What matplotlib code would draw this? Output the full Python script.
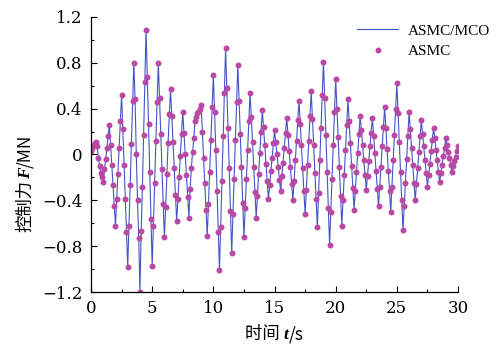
import numpy as np
import matplotlib
matplotlib.use("Agg")
import matplotlib.pyplot as plt
from matplotlib.ticker import MultipleLocator

plt.rcParams['font.family'] = ['DejaVu Serif', 'Noto Sans CJK SC']

CJK = ['Noto Sans CJK SC', 'DejaVu Sans']
ITALIC = dict(family='Liberation Serif', style='italic', weight='bold')

# sample step of the response (s)
dt = 0.1

# control force F (MN), one value per sample
force = [
    0.03, 0.06, 0.08, 0.10, 0.11, 0.07, -0.03, -0.10, -0.16, -0.20,   # 0-1
    -0.24, -0.13, -0.04, 0.06, 0.16, 0.26, 0.08, -0.09, -0.27, -0.45,
    -0.62, -0.39, -0.17, 0.06, 0.29, 0.52, 0.22, -0.09, -0.39, -0.68,
    -0.98, -0.62, -0.27, 0.09, 0.47, 0.80, 0.48, 0.00, -0.40, -0.73,
    -1.20, -0.67, -0.28, 0.17, 0.63, 1.09, 0.68, 0.27, -0.15, -0.56,
    -0.97, -0.62, -0.25, 0.12, 0.46, 0.80, 0.49, 0.18, -0.13, -0.43,   # 5-6
    -0.72, -0.46, -0.17, 0.10, 0.35, 0.57, 0.34, 0.11, -0.12, -0.35,
    -0.58, -0.39, -0.20, -0.01, 0.18, 0.37, 0.19, 0.00, -0.18, -0.37,
    -0.55, -0.30, -0.12, 0.02, 0.14, 0.29, 0.33, 0.36, 0.38, 0.40,
    0.43, 0.20, -0.03, -0.25, -0.48, -0.71, -0.43, -0.15, 0.13, 0.41,
    0.69, 0.37, 0.04, -0.32, -0.68, -1.01, -0.63, -0.23, 0.16, 0.54,   # 10-11
    0.93, 0.58, 0.23, -0.12, -0.49, -0.86, -0.52, -0.21, 0.13, 0.46,
    0.78, 0.47, 0.18, -0.11, -0.42, -0.72, -0.47, -0.21, 0.04, 0.29,
    0.54, 0.33, 0.11, -0.11, -0.33, -0.55, -0.36, -0.17, 0.01, 0.20,
    0.39, 0.24, 0.08, -0.08, -0.23, -0.39, -0.27, -0.14, -0.03, 0.10,
    0.21, 0.11, 0.00, -0.11, -0.22, -0.32, -0.19, -0.07, 0.06, 0.19,   # 15-16
    0.32, 0.17, 0.03, -0.11, -0.26, -0.40, -0.23, -0.05, 0.12, 0.30,
    0.47, 0.27, 0.08, -0.12, -0.32, -0.52, -0.31, -0.09, 0.12, 0.34,
    0.55, 0.31, 0.08, -0.16, -0.39, -0.63, -0.34, -0.05, 0.23, 0.52,
    0.81, 0.49, 0.17, -0.15, -0.47, -0.79, -0.50, -0.21, 0.08, 0.37,
    0.66, 0.40, 0.15, -0.11, -0.36, -0.62, -0.40, -0.18, 0.04, 0.26,   # 20-21
    0.48, 0.29, 0.10, -0.10, -0.29, -0.48, -0.32, -0.15, 0.01, 0.18,
    0.34, 0.21, 0.08, -0.05, -0.18, -0.31, -0.19, -0.06, 0.07, 0.19,
    0.32, 0.16, 0.01, -0.14, -0.30, -0.45, -0.28, -0.11, 0.07, 0.24,
    0.41, 0.23, 0.05, -0.14, -0.32, -0.50, -0.28, -0.05, 0.17, 0.40,
    0.62, 0.36, 0.11, -0.15, -0.40, -0.66, -0.45, -0.25, -0.04, 0.16,  # 25-26
    0.37, 0.22, 0.06, -0.09, -0.25, -0.40, -0.26, -0.12, 0.02, 0.16,
    0.30, 0.18, 0.07, -0.05, -0.16, -0.28, -0.18, -0.08, 0.03, 0.13,
    0.23, 0.14, 0.04, -0.05, -0.15, -0.24, -0.16, -0.09, -0.01, 0.06,
    0.14, 0.08, 0.02, -0.03, -0.09, -0.15, -0.10, -0.06, -0.02, 0.03,
    0.07,
]
t = np.arange(len(force)) * dt

y_ticks = [-1.2, -0.8, -0.4, 0, 0.4, 0.8, 1.2]
y_labels = ['\u22121.2', '\u22120.8', '\u22120.4', '0', '0.4', '0.8', '1.2']
x_ticks = [0, 5, 10, 15, 20, 25, 30]


def label_pieces(ax, pieces, x, y, vertical=False, size=12.5):
    # chain text pieces (CJK / italic symbol / units) one after another
    prev = None
    for txt, props in pieces:
        kw = dict(fontsize=size, va='baseline', ha='left', annotation_clip=False)
        kw.update(props)
        if vertical:
            kw.update(rotation=90, rotation_mode='anchor')
            if prev is None:
                prev = ax.annotate(txt, xy=(x, y), xycoords='axes fraction', **kw)
            else:
                prev = ax.annotate(txt, xy=(x, 1), xycoords=('axes fraction', prev), **kw)
        else:
            if prev is None:
                prev = ax.annotate(txt, xy=(x, y), xycoords='axes fraction', **kw)
            else:
                prev = ax.annotate(txt, xy=(1, y), xycoords=(prev, 'axes fraction'), **kw)


fig = plt.figure(figsize=(4.99, 3.46), dpi=100)
ax = fig.add_axes([0.1824, 0.156, 0.7355, 0.795])

ax.plot(t, force, color='#4356c6', lw=0.8, label='ASMC/MCO')
ax.plot(t, force, ls='none', marker='o', ms=4.3, color='#b84aa6',
        mec='none', label='ASMC')

ax.set_xlim(0, 30)
ax.set_ylim(-1.2, 1.2)
ax.set_xticks(x_ticks)
ax.set_yticks(y_ticks)
ax.set_yticklabels(y_labels)
ax.xaxis.set_minor_locator(MultipleLocator(2.5))
ax.yaxis.set_minor_locator(MultipleLocator(0.2))
ax.tick_params(which='both', direction='in', labelsize=12, width=0.8, pad=6)
ax.tick_params(which='major', length=4)
ax.tick_params(which='minor', length=2.5)

for side in ['top', 'right']:
    ax.spines[side].set_visible(False)
for side in ['left', 'bottom']:
    ax.spines[side].set_linewidth(0.9)

label_pieces(ax, [('时间 ', dict(family=CJK, weight='medium')), ('t', ITALIC),
                  ('/s', dict(family=CJK, weight='medium'))],
             0.42, -0.172)
label_pieces(ax, [('控制力', dict(family=CJK, weight='medium')), ('F', ITALIC),
                  ('/MN', dict(family=CJK, weight='medium'))],
             -0.166, 0.22, vertical=True)

ax.legend(loc='upper left', bbox_to_anchor=(0.725, 0.975), frameon=False,
          prop={'family': 'Liberation Serif', 'size': 11},
          handlelength=2.7, handletextpad=0.6,
          borderpad=0, borderaxespad=0, labelspacing=0.45)

fig.savefig('out.png', dpi=100)
